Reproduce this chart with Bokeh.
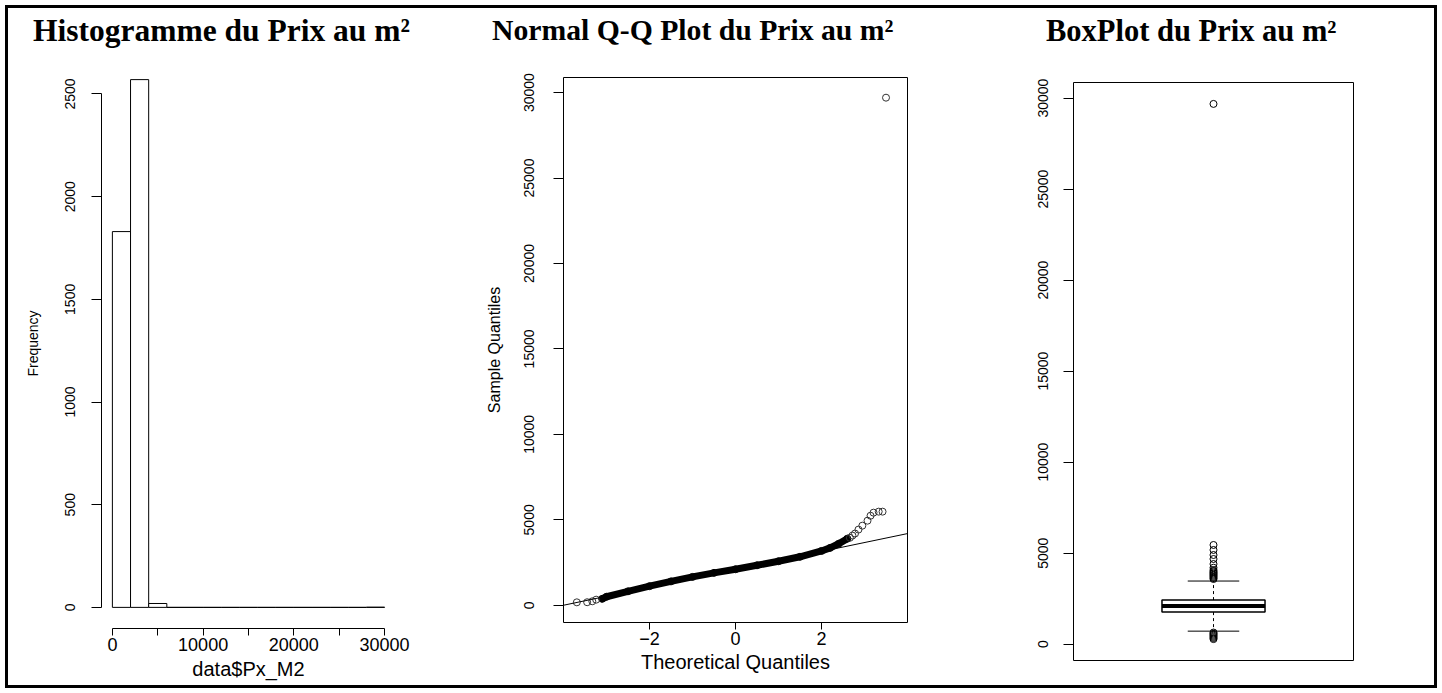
from bokeh.plotting import figure
from bokeh.models import Range1d, FixedTicker, Slope, Div
from bokeh.embed import file_html
from bokeh.resources import INLINE

# ---------------- data ----------------
# Histogram of price per m2
hist_edges = [0, 2000, 4000, 6000, 8000, 10000, 12000, 14000, 16000,
              18000, 20000, 22000, 24000, 26000, 28000, 30000]
hist_counts = [1830, 2570, 19, 0, 0, 0, 0, 0, 0, 0, 0, 0, 0, 0, 1]
hist_xticks = [0, 5000, 10000, 15000, 20000, 25000, 30000]
hist_yticks = [0, 500, 1000, 1500, 2000, 2500]

# Normal Q-Q plot: dense band of overlapping points and individual visible points
qq_band_theo = [-3.1, -3.0, -2.5, -2.0, -1.5, -1.0, -0.5, 0.0, 0.5, 1.0, 1.5, 2.0, 2.2, 2.4, 2.6]
qq_band_sample = [380, 500, 820, 1120, 1400, 1660, 1900, 2110, 2340, 2580, 2840, 3180, 3360, 3600, 3900]
qq_tail_theo = [-3.69, -3.45, -3.33, -3.24, 2.66, 2.72, 2.78, 2.86, 2.95, 3.07, 3.14, 3.21, 3.33, 3.42, 3.5]
qq_tail_sample = [175, 180, 235, 330, 3950, 4080, 4200, 4430, 4660, 4950, 5240, 5420, 5480, 5480, 29700]
qq_line_intercept = 2100
qq_line_slope = 524
qq_xticks = [-2, 0, 2]
qq_yticks = [0, 5000, 10000, 15000, 20000, 25000, 30000]

# Boxplot
box_stats = {"low": 716, "q1": 1762, "median": 2093, "q3": 2423, "high": 3469}
box_out_high = [3580, 3640, 3700, 3760, 3820, 3880, 3940, 4000, 4075, 4200, 4405,
                4680, 4900, 5176, 5450, 29680]
box_out_low = [280, 340, 400, 460, 520, 580, 640]
box_yticks = [0, 5000, 10000, 15000, 20000, 25000, 30000]

titles = ["Histogramme du Prix au m\u00b2", "Normal Q-Q Plot du Prix au m\u00b2",
          "BoxPlot du Prix au m\u00b2"]

SANS = "Liberation Sans"
SERIF = "Liberation Serif"


def padded(lo, hi, f=0.04):
    d = (hi - lo) * f
    return lo - d, hi + d


def style_axis(ax, ticks, bounds, tick_out, label_size, standoff, orient=None):
    ax.ticker = FixedTicker(ticks=ticks)
    ax.bounds = bounds
    ax.major_tick_in = 0
    ax.major_tick_out = tick_out
    ax.minor_tick_line_color = None
    ax.axis_line_color = "black"
    ax.major_tick_line_color = "black"
    ax.major_label_text_font = SANS
    ax.major_label_text_font_size = label_size
    ax.major_label_text_color = "black"
    ax.major_label_standoff = standoff
    ax.axis_label_text_font = SANS
    ax.axis_label_text_font_style = "normal"
    ax.axis_label_text_color = "black"
    if orient is not None:
        ax.major_label_orientation = orient


def base_fig(left, top, width, height, xr, yr, mb, **kw):
    p = figure(width=width, height=height, x_range=xr, y_range=yr,
               output_backend="svg", toolbar_location=None,
               min_border_left=mb[0], min_border_right=mb[1],
               min_border_top=mb[2], min_border_bottom=mb[3],
               styles={"position": "absolute", "left": f"{left}px", "top": f"{top}px"},
               **kw)
    p.xgrid.visible = False
    p.ygrid.visible = False
    p.background_fill_color = "white"
    p.border_fill_color = "white"
    return p


def title_div(text, left, baseline, size):
    top = baseline - 0.8375 * size
    return Div(text=text, width=440, height=34,
               styles={"position": "absolute", "left": f"{left}px", "top": f"{top:.1f}px",
                       "font-family": SERIF, "font-size": f"{size}px", "font-weight": "bold",
                       "line-height": f"{size}px", "white-space": "nowrap", "color": "black",
                       "margin": "0", "padding": "0"})


def bar_div(left, top, width, height):
    return Div(text="", width=width, height=height,
               styles={"position": "absolute", "left": f"{left}px", "top": f"{top}px",
                       "width": f"{width}px", "height": f"{height}px",
                       "background-color": "black", "margin": "0", "padding": "0"})


# ---------------- Histogram ----------------
hx = padded(hist_edges[0], hist_edges[-1])
hy = padded(0, max(hist_counts))
p1 = base_fig(10, 10, 460, 675, Range1d(*hx), Range1d(*hy), (91, 75, 48, 57))
p1.outline_line_color = None
p1.quad(left=hist_edges[:-1], right=hist_edges[1:], bottom=0, top=hist_counts,
        fill_color="white", line_color="black", line_width=1)
style_axis(p1.xaxis[0], hist_xticks, (0, 30000), 7, "18px", 2)
p1.xaxis[0].major_label_overrides = {5000: "", 15000: "", 25000: ""}
p1.xaxis[0].axis_label = "data$Px_M2"
p1.xaxis[0].axis_label_text_font_size = "20px"
p1.xaxis[0].axis_label_standoff = 4
style_axis(p1.yaxis[0], hist_yticks, (0, 2500), 10, "14px", 16, "vertical")
p1.yaxis[0].axis_label = "Frequency"
p1.yaxis[0].axis_label_text_font_size = "14px"
p1.yaxis[0].axis_label_standoff = 22

# ---------------- Q-Q plot ----------------
all_q = qq_band_sample + qq_tail_sample
qy = padded(min(all_q), max(all_q))
p2 = base_fig(470, 10, 490, 675, Range1d(-4.0, 4.0), Range1d(*qy), (93, 53, 67, 63))
p2.outline_line_color = "black"
p2.outline_line_width = 1
p2.outline_line_alpha = 1
p2.line(qq_band_theo, qq_band_sample, line_color="black", line_width=7, line_cap="round",
        line_join="round")
p2.scatter(qq_band_theo, qq_band_sample, marker="circle", size=7, fill_color=None,
           line_color="black", line_width=1)
p2.scatter(qq_tail_theo, qq_tail_sample, marker="circle", size=7, fill_color=None,
           line_color="#333333", line_width=1)
p2.add_layout(Slope(gradient=qq_line_slope, y_intercept=qq_line_intercept,
                    line_color="black", line_width=1))
style_axis(p2.xaxis[0], qq_xticks, (-2, 2), 7, "18px", 2)
p2.xaxis[0].major_label_overrides = {-2: "\u22122"}
p2.xaxis[0].axis_label = "Theoretical Quantiles"
p2.xaxis[0].axis_label_text_font_size = "20px"
p2.xaxis[0].axis_label_standoff = 3
style_axis(p2.yaxis[0], qq_yticks, (0, 30000), 10, "14px", 19, "vertical")
p2.yaxis[0].axis_label = "Sample Quantiles"
p2.yaxis[0].axis_label_text_font_size = "16px"
p2.yaxis[0].axis_label_standoff = 19

# ---------------- Boxplot ----------------
all_b = box_out_high + box_out_low + list(box_stats.values())
by = padded(min(all_b), max(all_b))
p3 = base_fig(960, 10, 472, 675, Range1d(0.5, 1.5), Range1d(*by), (113, 79, 72, 25),
              x_axis_location=None)
p3.outline_line_color = "black"
p3.outline_line_width = 1
p3.outline_line_alpha = 1
bw, cw = 0.184, 0.092
p3.segment(x0=[1, 1], y0=[box_stats["q3"], box_stats["q1"]], x1=[1, 1],
           y1=[box_stats["high"], box_stats["low"]], line_color="black", line_width=1,
           line_dash="3 3")
p3.segment(x0=[1 - cw, 1 - cw], y0=[box_stats["high"], box_stats["low"]],
           x1=[1 + cw, 1 + cw], y1=[box_stats["high"], box_stats["low"]],
           line_color="black", line_width=1)
p3.quad(left=[1 - bw], right=[1 + bw], bottom=[box_stats["q1"]], top=[box_stats["q3"]],
        fill_color="white", line_color="black", line_width=1.5)
p3.segment(x0=[1 - bw], y0=[box_stats["median"]], x1=[1 + bw], y1=[box_stats["median"]],
           line_color="black", line_width=4)
p3.scatter([1] * len(box_out_high), box_out_high, marker="circle", size=7,
           fill_color=None, line_color="black", line_width=1)
p3.scatter([1] * len(box_out_low), box_out_low, marker="circle", size=7,
           fill_color=None, line_color="black", line_width=1)
style_axis(p3.yaxis[0], box_yticks, (0, 30000), 10, "14px", 15, "vertical")

# ---------------- titles and outer frame ----------------
t1 = title_div(titles[0], 33, 41, 31.5)
t2 = title_div(titles[1], 492, 41, 29.7)
t3 = title_div(titles[2], 1046, 41, 30.5)

frame_top = bar_div(5, 5, 1432, 3)
frame_bottom = bar_div(5, 685, 1432, 3)
frame_left = bar_div(5, 5, 3, 683)
frame_right = bar_div(1434, 5, 3, 683)

open("out.html", "w").write(file_html(
    [p1, p2, p3, t1, t2, t3, frame_top, frame_bottom, frame_left, frame_right], INLINE))
